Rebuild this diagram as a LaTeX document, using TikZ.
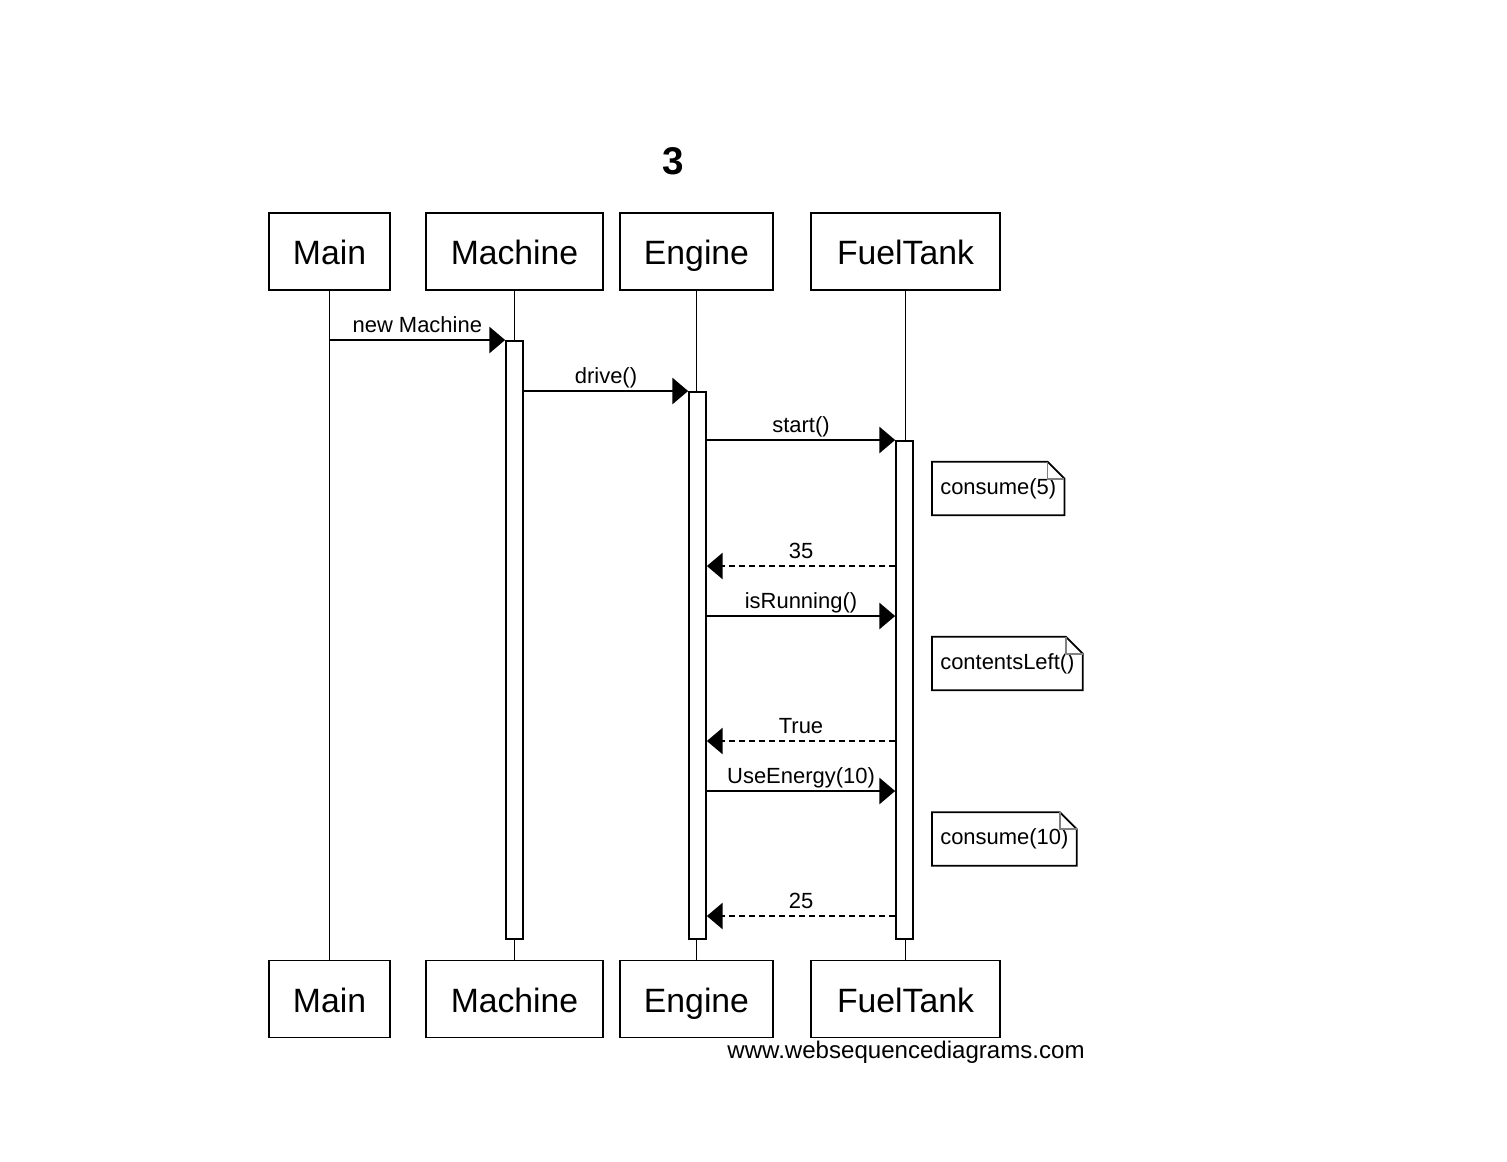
\documentclass[tikz,border=0pt]{standalone}
\usepackage{fontspec}
\setmainfont{Liberation Sans}
\usetikzlibrary{arrows.meta,positioning,calc}

\begin{document}
\begin{tikzpicture}[
  x=0.02cm, y=-0.02cm,
  actor/.style={draw, line width=1pt, minimum height=1.54cm, inner sep=0pt, text height=15pt, text depth=0pt, font=\fontsize{19.2}{22}\selectfont},
  lifeline/.style={draw, line width=1pt},
  actbar/.style={draw, fill=white, line width=1pt, minimum width=0.34cm, inner sep=0pt, anchor=north},
  msg/.style={-{Triangle[length=9pt, width=15pt]}, line width=1pt},
  reply/.style={msg, dash pattern=on 3.4pt off 2.3pt},
  lbl/.style={above, text depth=0pt, inner sep=0pt, yshift=3.5pt, font=\fontsize{12.5}{14}\selectfont},
  notebox/.style={inner xsep=4.5pt, inner ysep=0pt, minimum height=1.06cm, anchor=west, font=\fontsize{12.5}{14}\selectfont}
]
  \useasboundingbox (0,0) rectangle (1507,1161);

  % Title
  \node[font=\bfseries\fontsize{22}{26}\selectfont] (title) at (673,161) {3};

  % Participant heads (top) and feet (bottom)
  \node[actor, minimum width=2.42cm] (mainHead) at (329.5,251.5) {Main};
  \node[actor, minimum width=3.54cm] (machHead) at (514.5,251.5) {Machine};
  \node[actor, minimum width=3.06cm] (engHead) at (696.5,251.5) {Engine};
  \node[actor, minimum width=3.78cm] (ftHead) at (905.5,251.5) {FuelTank};

  \node[actor, minimum width=2.42cm] (mainFoot) at (329.5,999) {Main};
  \node[actor, minimum width=3.54cm] (machFoot) at (514.5,999) {Machine};
  \node[actor, minimum width=3.06cm] (engFoot) at (696.5,999) {Engine};
  \node[actor, minimum width=3.78cm] (ftFoot) at (905.5,999) {FuelTank};

  % Lifelines
  \draw[lifeline] (mainHead) -- (mainFoot);
  \draw[lifeline] (machHead) -- (machFoot);
  \draw[lifeline] (engHead) -- (engFoot);
  \draw[lifeline] (ftHead) -- (ftFoot);

  % Activation bars
  \node[actbar, minimum height=11.96cm] (machBar) at (514.5,340) {};
  \node[actbar, minimum height=10.94cm] (engBar) at (697.5,391) {};
  \node[actbar, minimum height=9.96cm] (ftBar) at (904.5,440) {};

  % Message levels
  \coordinate (r35) at (0,566);
  \coordinate (qRun) at (0,616);
  \coordinate (rTrue) at (0,741);
  \coordinate (qUse) at (0,791);
  \coordinate (r25) at (0,916);

  % Calls
  \draw[msg] (mainHead.south |- machBar.north) -- node[lbl] {new Machine} (machBar.north west);
  \draw[msg] (machBar.east |- engBar.north) -- node[lbl] {drive()} (engBar.north west);
  \draw[msg] (engBar.east |- ftBar.north) -- node[lbl] {start()} (ftBar.north west);

  % Returns and further calls
  \draw[reply] (ftBar.west |- r35) -- node[lbl] {35} (engBar.east |- r35);
  \draw[msg] (engBar.east |- qRun) -- node[lbl] {isRunning()} (ftBar.west |- qRun);
  \draw[reply] (ftBar.west |- rTrue) -- node[lbl] {True} (engBar.east |- rTrue);
  \draw[msg] (engBar.east |- qUse) -- node[lbl] {UseEnergy(10)} (ftBar.west |- qUse);
  \draw[reply] (ftBar.west |- r25) -- node[lbl] {25} (engBar.east |- r25);

  % Notes right of FuelTank
  \node[notebox] (noteA) at (932,488.5) {consume(5)};
  \node[notebox] (noteB) at (932,663.5) {contentsLeft()};
  \node[notebox] (noteC) at (932,839) {consume(10)};
  \foreach \n in {noteA,noteB,noteC} {
    \draw[line width=1pt] (\n.north west) -- ([xshift=-0.34cm]\n.north east) -- ([yshift=-0.34cm]\n.north east) -- (\n.south east) -- (\n.south west) -- cycle;
    \draw[gray, line width=1pt] ([xshift=-0.34cm]\n.north east) |- ([yshift=-0.34cm]\n.north east);
  }

  % Credit line
  \node[anchor=east, inner sep=0pt, font=\fontsize{13.7}{16}\selectfont] (credit) at (1085,1052) {www.websequencediagrams.com};

\end{tikzpicture}
\end{document}
